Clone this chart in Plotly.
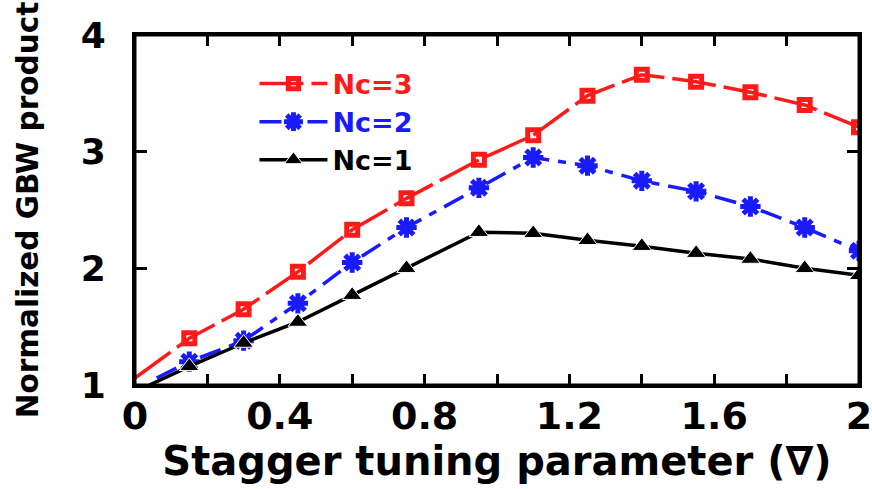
import plotly.graph_objects as go

# ---- data ----
x_nc3 = [0.0, 0.15, 0.30, 0.45, 0.60, 0.75, 0.95, 1.10, 1.25, 1.40, 1.55, 1.70, 1.85, 2.00]
y_nc3 = [1.06, 1.40, 1.65, 1.97, 2.33, 2.60, 2.93, 3.14, 3.48, 3.66, 3.60, 3.51, 3.40, 3.21]

x_nc2 = [0.06, 0.15, 0.30, 0.45, 0.60, 0.75, 0.95, 1.10, 1.25, 1.40, 1.55, 1.70, 1.85, 2.00]
y_nc2 = [1.06, 1.20, 1.38, 1.70, 2.05, 2.35, 2.69, 2.95, 2.88, 2.75, 2.66, 2.53, 2.35, 2.15]

x_nc1 = [0.04, 0.15, 0.30, 0.45, 0.60, 0.75, 0.95, 1.10, 1.25, 1.40, 1.55, 1.70, 1.85, 2.00]
y_nc1 = [1.00, 1.16, 1.36, 1.54, 1.77, 2.00, 2.31, 2.30, 2.24, 2.19, 2.13, 2.08, 2.00, 1.94]

x_tick_vals = [0.0, 0.2, 0.4, 0.6, 0.8, 1.0, 1.2, 1.4, 1.6, 1.8, 2.0]
x_tick_text = ["0", "", "0.4", "", "0.8", "", "1.2", "", "1.6", "", "2"]
y_tick_vals = [1, 2, 3, 4]
y_tick_text = ["1", "2", "3", "4"]

names = ["Nc=3", "Nc=2", "Nc=1"]
colors = ["#ff1a1a", "#1a1aff", "#000000"]

WIDE = "DejaVu Sans"


def sizes(xs, s):
    return [0 if x < 0.1 else s for x in xs]


def cname(n, c):
    return '<span style="color:%s">%s</span>' % (c, n)


fig = go.Figure()
fig.add_trace(go.Scatter(
    x=x_nc3, y=y_nc3, name=cname(names[0], colors[0]), mode="lines+markers",
    line=dict(color=colors[0], width=3.5, dash="44px,8px"),
    marker=dict(symbol="square-open", size=sizes(x_nc3, 11), color=colors[0], opacity=1,
                line=dict(width=5, color=colors[0])),
))
fig.add_trace(go.Scatter(
    x=x_nc2, y=y_nc2, name=cname(names[1], colors[1]), mode="lines+markers",
    line=dict(color=colors[1], width=3.5, dash="22px,9px,8px,9px"),
    marker=dict(symbol="asterisk-open", size=sizes(x_nc2, 17), color=colors[1], opacity=1,
                line=dict(width=5, color=colors[1])),
))
fig.add_trace(go.Scatter(
    x=x_nc1, y=y_nc1, name=cname(names[2], colors[2]), mode="lines+markers",
    line=dict(color=colors[2], width=3.5),
    marker=dict(symbol="triangle-up", size=sizes(x_nc1, 17), color=colors[2], opacity=1),
))

fig.update_layout(
    width=872, height=489,
    margin=dict(l=135, r=13, t=35, b=104),
    paper_bgcolor="white", plot_bgcolor="white",
    font=dict(family=WIDE, color="black"),
    showlegend=True,
    legend=dict(
        x=0.165, y=0.93, xanchor="left", yanchor="top",
        bgcolor="rgba(0,0,0,0)", borderwidth=0,
        font=dict(family=WIDE, size=27, color="black", weight="bold"),
        itemwidth=68, tracegroupgap=0,
    ),
    shapes=[dict(type="rect", xref="paper", yref="paper", x0=0, x1=1, y0=0, y1=1,
                 line=dict(color="black", width=3), layer="above")],
    xaxis=dict(
        range=[0, 2], tickmode="array", tickvals=x_tick_vals, ticktext=x_tick_text,
        ticks="inside", ticklen=11, tickwidth=2.5, tickcolor="black",
        showline=True, linewidth=3, linecolor="black", mirror="ticks",
        showgrid=False, zeroline=False, automargin=False,
        tickfont=dict(family=WIDE, size=38, weight="bold"),
        ticklabelstandoff=-5, ticklabeloverflow="allow",
        title=dict(text="Stagger tuning parameter (∇)",
                   font=dict(family=WIDE, size=40, weight="bold"), standoff=0),
    ),
    yaxis=dict(
        range=[1, 4], tickmode="array", tickvals=y_tick_vals, ticktext=y_tick_text,
        ticks="inside", ticklen=12, tickwidth=2.5, tickcolor="black",
        showline=True, linewidth=3, linecolor="black", mirror="ticks",
        showgrid=False, zeroline=False, automargin=False,
        tickfont=dict(family=WIDE, size=36, weight="bold"),
        ticklabelstandoff=19, ticklabeloverflow="allow",
        title=dict(text="Normalized GBW product",
                   font=dict(family=WIDE, size=29.5, weight="bold"), standoff=34),
    ),
)

fig.write_html("out.html",
               config={"displayModeBar": False},
               post_script="document.body.style.margin='0';document.body.style.overflow='hidden';")
